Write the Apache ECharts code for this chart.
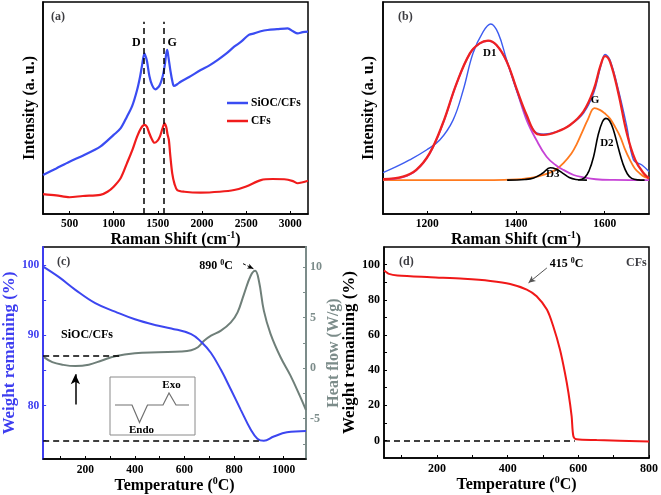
<!DOCTYPE html>
<html><head><meta charset="utf-8">
<script src="https://cdn.jsdelivr.net/npm/echarts@6/dist/echarts.min.js"></script>
<style>html,body{margin:0;padding:0;background:#fff}#c{width:661px;height:495px}</style>
</head><body><div id="c"></div>
<script>
// ---------- Panel (a): Raman spectra ----------
const ramanSiOC = [[200,18.4],[350,21.5],[500,24.7],[650,27.5],[848,31.8],[1000,37.3],[1080,40.5],[1150,45.9],[1210,51],[1265,58.5],[1300,65],[1322,70.3],[1348,75.8],[1365,74],[1378,71.9],[1405,65],[1435,60.8],[1473,58.8],[1510,60],[1530,61.6],[1555,65],[1576,69.5],[1595,75.5],[1606,77.4],[1620,74],[1644,67.2],[1665,62.5],[1682,60.4],[1720,61.2],[1758,62.4],[1850,64.5],[1985,67.9],[2080,70],[2175,72.6],[2270,75.5],[2364,78.9],[2450,81.5],[2530,84.5],[2591,85.2],[2665,86.2],[2742,86.8],[2850,87.2],[2970,87.6],[3030,86.2],[3083,85.2],[3140,85.8],[3200,86]];
const ramanCFs = [[200,9.4],[350,8.8],[500,7.9],[650,8.5],[848,9.0],[930,10.5],[1000,12.9],[1080,17],[1150,23.9],[1210,30],[1265,36.5],[1310,40.5],[1348,42],[1375,41.2],[1397,38.8],[1430,35.5],[1462,33.6],[1495,34.5],[1523,36.5],[1550,40],[1576,42.8],[1595,41],[1610,37.5],[1625,34.9],[1640,28],[1663,19.2],[1690,14],[1720,11.3],[1800,10.5],[1985,10.1],[2200,10.5],[2364,11.3],[2500,13],[2667,16],[2800,16.5],[2932,16.4],[3030,15.5],[3083,14.5],[3140,15],[3200,15.7]];
const ramanPeakLines = [1340, 1570];
const ramanPeakNames = ['D', 'G'];
const ramanTicks = [500,1000,1500,2000,2500,3000];

// ---------- Panel (b): peak fitting ----------
const fitExp = [[1100,19.5],[1130,22.3],[1160,25.5],[1198,30.2],[1228,34.9],[1258,44.3],[1281,58.5],[1303,75.8],[1326,86],[1343,89.6],[1360,85.2],[1379,72.6],[1401,58.5],[1424,45.9],[1443,38.8],[1462,37.7],[1492,38.8],[1522,42],[1552,47.5],[1575,56.9],[1591,69.5],[1601,75.3],[1612,72.6],[1631,58.5],[1650,41.2],[1665,25.5],[1684,23.1],[1700,20]];
const fitSum = [[1100,16.4],[1145,17.6],[1175,20.8],[1205,28.6],[1235,42.8],[1266,61.6],[1296,75.8],[1318,80.5],[1337,81.8],[1356,79.7],[1379,72],[1401,59.3],[1424,46.7],[1446,37.9],[1462,37.3],[1492,38.8],[1522,42],[1552,48.3],[1575,58.5],[1591,70.3],[1601,74.5],[1612,71.9],[1631,56.9],[1650,38.1],[1669,25.5],[1688,19.2],[1700,16.8]];
const fitD1 = [[1100,16.3],[1145,17.4],[1175,20.6],[1205,28.4],[1235,42.6],[1266,61.5],[1296,75.7],[1318,80.4],[1337,81.7],[1356,79.6],[1379,71.8],[1401,58.8],[1424,44.3],[1446,34.9],[1469,27],[1490,23],[1507,20.8],[1530,18.4],[1552,17.3],[1580,16.4],[1620,16.1],[1700,16]];
const fitG = [[1100,16],[1350,16],[1400,16.3],[1424,16.8],[1450,17.8],[1469,18.9],[1490,21],[1507,24],[1525,28.5],[1537,33],[1550,39],[1562,44.5],[1577,49.9],[1590,49],[1600,47.5],[1612,45],[1625,40.5],[1635,36.5],[1645,31],[1657,25.5],[1668,21.5],[1680,19],[1690,17.5],[1700,16.8]];
const fitD3 = [[1380,16],[1420,16.3],[1440,17],[1460,19.2],[1477,21.8],[1490,21.2],[1505,19.3],[1520,17.2],[1535,16.3],[1560,16]];
const fitD2 = [[1540,16],[1555,17.2],[1565,20.5],[1575,27],[1585,37],[1595,43.5],[1603,45.1],[1611,44],[1620,39.5],[1631,31],[1641,23.8],[1651,19],[1661,16.8],[1675,16.1],[1690,16]];
const fitLabels = [['D1',1341,75.8],['G',1578,53.8],['D2',1605,33.6],['D3',1483,18.9]];
const fitTicks = [1200,1400,1600];

// ---------- Panel (c): SiOC/CFs TGA-DSC ----------
const tgaSiOC = [[30,99.8],[94,98.3],[160,96.5],[240,94.6],[320,93.4],[400,92.3],[480,91.5],[547,91],[627,90.2],[667,89.1],[707,87.5],[747,85.1],[787,82.3],[827,79.4],[867,76.6],[894,75.3],[920,75],[960,75.6],[1013,76.2],[1090,76.4]];
const dscSiOC = [[33,1.09],[67,0.59],[107,0.34],[160,0.2],[214,0.34],[267,0.76],[320,1.18],[400,1.48],[494,1.58],[587,1.65],[627,1.78],[654,2.07],[680,2.73],[707,3.22],[747,3.72],[787,4.54],[814,5.53],[840,7.34],[867,9.15],[885,9.64],[900,8.66],[920,5.7],[947,3.4],[987,1.1],[1027,-0.72],[1067,-2.85],[1090,-4.16]];
const cTempTicks = [200,400,600,800,1000];
const cWeightTicks = [80,90,100];
const cHeatTicks = [-5,0,5,10];

// ---------- Panel (d): CFs TGA ----------
const tgaCFs = [[50,96.5],[53,96.2],[64,94.7],[88,93.8],[182,92.8],[276,91.9],[351,90.7],[407,89],[454,85.8],[482,82],[511,74.4],[529,64.9],[548,51.7],[562,38.5],[572,27.1],[581,13.8],[586,2.4],[595,0.6],[652,0.2],[800,-0.6]];
const dTempTicks = [200,400,600,800];
const dWeightTicks = [0,20,40,60,80,100];

const SERIF = '"Liberation Serif","Times New Roman",serif';
const chart = echarts.init(document.getElementById('c'), null, {renderer:'canvas'});

const supRich = {
  n:{fontSize:16,fontWeight:'bold',fontFamily:SERIF,lineHeight:18},
  s:{fontSize:10,fontWeight:'bold',fontFamily:SERIF,lineHeight:9,verticalAlign:'top'}
};
function nameStyle(color){
  const r = JSON.parse(JSON.stringify(supRich));
  r.n.color = color; r.s.color = color;
  return {rich:r, color:color, fontFamily:SERIF, fontWeight:'bold', fontSize:16};
}
function range(a,b,s){const o=[];for(let v=a;v<=b+1e-9;v+=s)o.push(+v.toFixed(3));return o;}
const plain = v => String(v);
const lblBase = {fontFamily:SERIF,fontWeight:'bold',fontSize:11.5,color:'#000',formatter:plain};
function annot(list, color, size){
  return {symbol:'circle',symbolSize:0,silent:true,animation:false,
    label:{show:true,position:'inside',color:color||'#000',fontFamily:SERIF,fontWeight:'bold',fontSize:size||11,
      rich:{n:{fontFamily:SERIF,fontWeight:'bold',fontSize:size||11,color:color||'#000',lineHeight:14},
            s:{fontFamily:SERIF,fontWeight:'bold',fontSize:8,color:color||'#000',lineHeight:7,verticalAlign:'top'}}},
    data:list.map(d=>({coord:[d[1],d[2]],label:{formatter:d[0]}}))};
}
const xLine = {onZero:false,lineStyle:{color:'#000',width:1.5}};

const option = {
  animation:false,
  backgroundColor:'#fff',
  grid:[
    {left:43,top:2,width:265,height:212,show:true,borderColor:'#000',borderWidth:1.5},
    {left:383,top:2,width:266,height:212,show:true,borderColor:'#000',borderWidth:1.5},
    {left:41,top:247,width:265,height:212,show:true,borderColor:'#000',borderWidth:1.5},
    {left:384,top:247,width:265,height:211,show:true,borderColor:'#000',borderWidth:1.5}
  ],
  title:[
    {text:'(a)',left:46,top:6,textStyle:{fontFamily:SERIF,fontWeight:'bold',fontSize:12}},
    {text:'(b)',left:393,top:6,textStyle:{fontFamily:SERIF,fontWeight:'bold',fontSize:12}},
    {text:'(c)',left:52,top:251,textStyle:{fontFamily:SERIF,fontWeight:'bold',fontSize:12}},
    {text:'(d)',left:394,top:251,textStyle:{fontFamily:SERIF,fontWeight:'bold',fontSize:12}},
    {text:'CFs',left:621,top:252,textStyle:{fontFamily:SERIF,fontWeight:'bold',fontSize:12}}
  ],
  legend:{data:[{name:'SiOC/CFs',icon:'rect'},{name:'CFs',icon:'rect'}],orient:'vertical',left:227,top:97,padding:0,
    itemWidth:21,itemHeight:2.5,itemGap:6,
    textStyle:{fontFamily:SERIF,fontWeight:'bold',fontSize:11.5,color:'#000',padding:[0,0,0,-2]},selectedMode:false},
  xAxis:[
    {gridIndex:0,type:'value',min:200,max:3200,
      name:'{n|Raman Shift (cm}{s|-1}{n|)}',nameLocation:'middle',nameGap:13,nameTextStyle:nameStyle('#000'),
      axisLine:xLine,
      axisTick:{inside:true,length:3,customValues:ramanTicks,lineStyle:{color:'#000'}},
      axisLabel:{...lblBase,margin:4,customValues:ramanTicks},splitLine:{show:false}},
    {gridIndex:1,type:'value',min:1100,max:1700,
      name:'{n|Raman Shift (cm}{s|-1}{n|)}',nameLocation:'middle',nameGap:13,nameTextStyle:nameStyle('#000'),
      axisLine:xLine,
      axisTick:{inside:true,length:3,customValues:range(1200,1600,100),lineStyle:{color:'#000'}},
      axisLabel:{...lblBase,margin:4,customValues:fitTicks},splitLine:{show:false}},
    {gridIndex:2,type:'value',min:30,max:1090,
      name:'{n|Temperature (}{s|0}{n|C)}',nameLocation:'middle',nameGap:15,nameTextStyle:nameStyle('#000'),
      axisLine:xLine,
      axisTick:{inside:true,length:3,customValues:range(100,1000,100),lineStyle:{color:'#000'}},
      axisLabel:{...lblBase,margin:5,customValues:cTempTicks},splitLine:{show:false}},
    {gridIndex:3,type:'value',min:50,max:800,
      name:'{n|Temperature (}{s|0}{n|C)}',nameLocation:'middle',nameGap:15,nameTextStyle:nameStyle('#000'),
      axisLine:xLine,
      axisTick:{inside:true,length:3,customValues:range(100,800,100),lineStyle:{color:'#000'}},
      axisLabel:{...lblBase,fontSize:12,margin:5,customValues:dTempTicks},splitLine:{show:false}}
  ],
  yAxis:[
    {gridIndex:0,type:'value',min:0,max:100,name:'Intensity (a. u.)',nameLocation:'middle',nameGap:5,
      nameTextStyle:{fontFamily:SERIF,fontWeight:'bold',fontSize:16,color:'#000'},
      axisLine:{show:true,onZero:false,lineStyle:{color:'#000',width:1.5}},axisTick:{show:false},axisLabel:{show:false},splitLine:{show:false}},
    {gridIndex:1,type:'value',min:0,max:100,name:'Intensity (a. u.)',nameLocation:'middle',nameGap:6,
      nameTextStyle:{fontFamily:SERIF,fontWeight:'bold',fontSize:16,color:'#000'},
      axisLine:{show:true,onZero:false,lineStyle:{color:'#000',width:1.5}},axisTick:{show:false},axisLabel:{show:false},splitLine:{show:false}},
    {gridIndex:2,type:'value',min:72.4,max:102.6,position:'left',name:'Weight remaining (%)',nameLocation:'middle',nameGap:22,
      nameTextStyle:{fontFamily:SERIF,fontWeight:'bold',fontSize:17,color:'#3d3df0'},
      axisLine:{show:true,onZero:false,lineStyle:{color:'#3d3df0',width:2}},
      axisTick:{inside:true,length:3,customValues:range(75,100,5),lineStyle:{color:'#3d3df0'}},
      axisLabel:{...lblBase,color:'#3d3df0',margin:4,customValues:cWeightTicks},splitLine:{show:false}},
    {gridIndex:2,type:'value',min:-9,max:12,position:'right',name:'Heat flow (W/g)',nameLocation:'middle',nameGap:20,
      nameRotate:90,
      nameTextStyle:{fontFamily:SERIF,fontWeight:'bold',fontSize:16,color:'#7c8c8a'},
      axisLine:{show:true,onZero:false,lineStyle:{color:'#7c8c8a',width:2}},
      axisTick:{inside:true,length:3,customValues:range(-7.5,10,2.5),lineStyle:{color:'#7c8c8a'}},
      axisLabel:{...lblBase,color:'#7c8c8a',fontSize:12,margin:4,customValues:cHeatTicks},splitLine:{show:false}},
    {gridIndex:3,type:'value',min:-10,max:110,name:'Weight remaining (%)',nameLocation:'middle',nameGap:21,
      nameTextStyle:{fontFamily:SERIF,fontWeight:'bold',fontSize:17,color:'#000'},
      axisLine:{show:true,onZero:false,lineStyle:{color:'#000',width:1.5}},
      axisTick:{inside:true,length:3,customValues:range(0,100,10),lineStyle:{color:'#000'}},
      axisLabel:{...lblBase,fontSize:12,margin:4,customValues:dWeightTicks},splitLine:{show:false}}
  ],
  series:[
    // panel a
    {name:'CFs',type:'line',xAxisIndex:0,yAxisIndex:0,data:ramanCFs,symbol:'none',smooth:0.3,
      lineStyle:{color:'#f01c1c',width:2.2},itemStyle:{color:'#f01c1c'}},
    {name:'SiOC/CFs',type:'line',xAxisIndex:0,yAxisIndex:0,data:ramanSiOC,symbol:'none',smooth:0.3,
      lineStyle:{color:'#3a4cf2',width:2.2},itemStyle:{color:'#3a4cf2'},
      markLine:{symbol:['none','none'],silent:true,animation:false,label:{show:false},
        lineStyle:{color:'#000',type:[6,4],width:1.5},
        data:ramanPeakLines.map(x=>[{coord:[x,0]},{coord:[x,90.7]}])},
      markPoint:annot([[ramanPeakNames[0],1257,80.8],[ramanPeakNames[1],1662,80.8]],'#000',12)},
    // panel b
    {name:'G fit',type:'line',xAxisIndex:1,yAxisIndex:1,data:fitG,symbol:'none',smooth:0.4,lineStyle:{color:'#ff7a1e',width:1.8}},
    {name:'D1 fit',type:'line',xAxisIndex:1,yAxisIndex:1,data:fitD1,symbol:'none',smooth:0.4,lineStyle:{color:'#c643d6',width:1.8}},
    {name:'D3 fit',type:'line',xAxisIndex:1,yAxisIndex:1,data:fitD3,symbol:'none',smooth:0.4,lineStyle:{color:'#000',width:1.6}},
    {name:'D2 fit',type:'line',xAxisIndex:1,yAxisIndex:1,data:fitD2,symbol:'none',smooth:0.4,lineStyle:{color:'#000',width:1.6}},
    {name:'exp',type:'line',xAxisIndex:1,yAxisIndex:1,data:fitExp,symbol:'none',smooth:0.4,lineStyle:{color:'#3d5cf0',width:1.4}},
    {name:'sum fit',type:'line',xAxisIndex:1,yAxisIndex:1,data:fitSum,symbol:'none',smooth:0.4,lineStyle:{color:'#ee2222',width:2.3},
      markPoint:annot(fitLabels,'#000',11)},
    // panel c
    {name:'DSC',type:'line',xAxisIndex:2,yAxisIndex:3,data:dscSiOC,symbol:'none',smooth:0.4,lineStyle:{color:'#6f7f79',width:2},
      markLine:{silent:true,animation:false,label:{show:false},data:[
        [{coord:[30,1.2],symbol:'none',lineStyle:{color:'#000',type:[6,4],width:1.5}},{coord:[345,1.2],symbol:'none'}],
        [{coord:[160,-3.6],symbol:'none',lineStyle:{color:'#000',type:'solid',width:1.5}},{coord:[160,-0.6],symbol:'arrow',symbolSize:[7,10]}],
        [{coord:[836,10.35],symbol:'none',lineStyle:{color:'#000',type:[3,2],width:1}},{coord:[878,9.85],symbol:'arrow',symbolSize:[4,6]}]
      ]},
      markPoint:annot([['{n|890 }{s|0}{n|C}',727,10.1]],'#000',12)},
    {name:'TGA SiOC',type:'line',xAxisIndex:2,yAxisIndex:2,data:tgaSiOC,symbol:'none',smooth:0.4,lineStyle:{color:'#3c46f0',width:2},
      markLine:{symbol:['none','none'],silent:true,animation:false,label:{show:false},
        lineStyle:{color:'#000',type:[6,4],width:1.5},data:[[{coord:[30,75]},{coord:[900,75]}]]},
      markPoint:annot([['SiOC/CFs',207,90.1]],'#000',12)},
    // panel d
    {name:'TGA CFs',type:'line',xAxisIndex:3,yAxisIndex:4,data:tgaCFs,symbol:'none',smooth:0.3,lineStyle:{color:'#f01818',width:2},
      markLine:{silent:true,animation:false,label:{show:false},data:[
        [{coord:[50,0],symbol:'none',lineStyle:{color:'#000',type:[6,4],width:1.5}},{coord:[590,0],symbol:'none'}],
        [{coord:[511,98.1],symbol:'none',lineStyle:{color:'#555',type:'solid',width:1}},{coord:[459,89.6],symbol:'arrow',symbolSize:[5,7]}]
      ]},
      markPoint:annot([['{n|415 }{s|0}{n|C}',567,100.6]],'#000',12)}
  ],
  graphic:[
    {type:'rect',shape:{x:110,y:377,width:85,height:58},style:{fill:'#fff',stroke:'#8a8a8a',lineWidth:1},z:50},
    {type:'polyline',shape:{points:[[115,405],[132,405],[139.5,422.5],[147.5,405],[163,405],[169,393],[176,405],[189,405]]},
      style:{stroke:'#707070',lineWidth:1.2,fill:null},z:51},
    {type:'text',x:171.5,y:385,style:{text:'Exo',font:'bold 11px '+SERIF,fill:'#000',textAlign:'center',textVerticalAlign:'middle'},z:51},
    {type:'text',x:141.5,y:430,style:{text:'Endo',font:'bold 11px '+SERIF,fill:'#000',textAlign:'center',textVerticalAlign:'middle'},z:51}
  ]
};
chart.setOption(option);
</script></body></html>
